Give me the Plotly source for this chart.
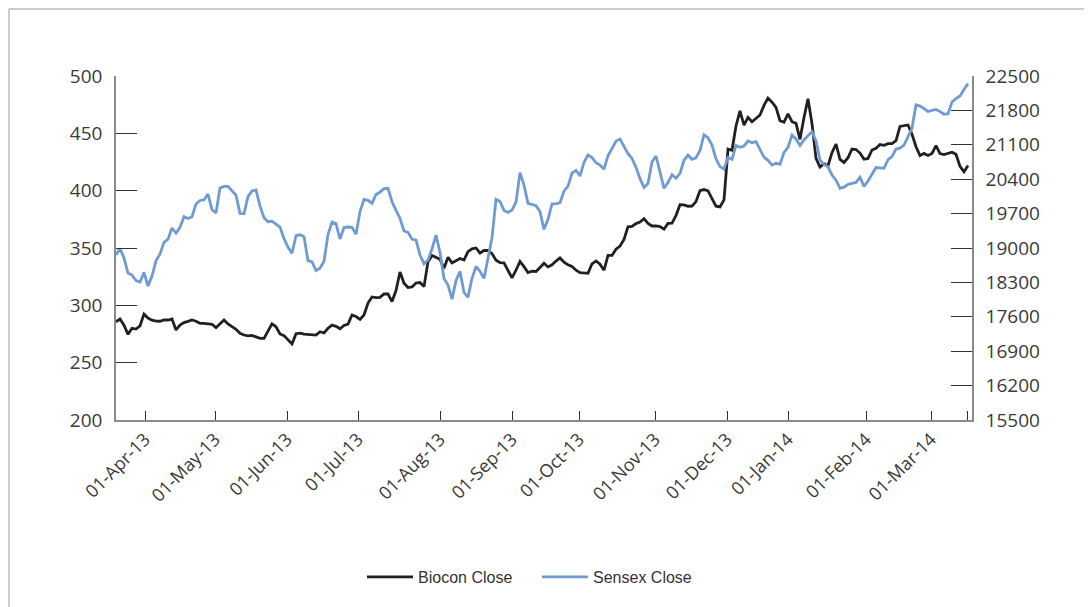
import plotly.graph_objects as go

# Trading-day sample index (x)
biocon_close = [
    285.7, 288.1, 282.7, 274.7, 280.0, 279.3, 282.0, 292.3, 288.9, 287.0,
    286.3, 286.1, 287.2, 287.2, 288.1, 278.5, 282.8, 284.9, 286.0, 287.2,
    286.1, 284.3, 284.2, 283.9, 283.5, 280.5, 283.9, 287.2, 283.7, 281.6,
    279.1, 275.6, 274.1, 273.4, 273.8, 272.5, 271.2, 271.2, 278.1, 283.9,
    281.3, 275.0, 273.6, 270.2, 266.3, 275.3, 275.8, 274.9, 274.6, 274.0,
    274.0, 277.0, 275.9, 280.0, 282.8, 281.7, 279.6, 282.4, 283.7, 291.6,
    290.2, 287.7, 291.6, 302.0, 307.3, 306.8, 307.0, 309.9, 309.9, 303.3,
    312.9, 329.1, 319.2, 315.5, 316.0, 319.5, 319.9, 316.3, 338.1, 343.5,
    341.8, 340.1, 332.3, 341.9, 337.0, 339.1, 340.8, 339.5, 346.8, 349.2,
    350.0, 345.6, 347.8, 347.8, 345.1, 339.3, 337.3, 337.1, 331.0, 323.9,
    330.6, 338.2, 333.7, 328.5, 329.7, 329.5, 333.0, 336.7, 333.5, 335.3,
    338.6, 341.3, 337.6, 335.3, 333.9, 330.6, 328.5, 328.1, 327.9, 336.2,
    338.7, 335.8, 330.6, 343.5, 343.5, 349.0, 351.7, 357.5, 368.5, 368.9,
    371.3, 372.7, 375.6, 371.5, 369.2, 369.2, 368.6, 366.4, 371.5, 371.7,
    378.3, 387.7, 387.6, 386.4, 386.5, 390.5, 400.1, 401.0, 399.8, 393.1,
    386.5, 385.8, 392.0, 436.3, 435.2, 456.4, 469.5, 457.2, 463.9, 460.1,
    462.8, 466.0, 474.4, 480.7, 477.2, 472.6, 461.1, 459.7, 466.9, 460.1,
    458.7, 444.8, 463.8, 480.2, 458.4, 428.2, 420.6, 423.5, 421.8, 433.1,
    440.7, 427.3, 424.6, 428.7, 436.3, 435.9, 432.8, 427.4, 428.1, 435.5,
    437.0, 440.2, 439.5, 441.0, 441.0, 443.7, 456.0, 456.4, 457.3, 449.2,
    438.3, 430.7, 432.5, 430.7, 432.4, 439.2, 432.3, 431.5, 432.8, 433.5,
    431.7, 421.2, 416.5, 421.9,
]

sensex_close = [
    18858, 18988, 18796, 18491, 18448, 18335, 18308, 18503, 18227, 18430,
    18739, 18878, 19116, 19179, 19407, 19301, 19421, 19637, 19600, 19637,
    19895, 19967, 19979, 20099, 19779, 19712, 20223, 20255, 20255, 20156,
    20074, 19706, 19700, 20044, 20162, 20180, 19851, 19615, 19535, 19545,
    19476, 19425, 19191, 19014, 18892, 19250, 19269, 19230, 18742, 18719,
    18540, 18587, 18731, 19273, 19527, 19496, 19183, 19417, 19427, 19419,
    19281, 19741, 19991, 19971, 19908, 20089, 20137, 20207, 20215, 19942,
    19765, 19606, 19346, 19317, 19177, 19163, 18858, 18678, 18756, 18980,
    19262, 18910, 18379, 18247, 17960, 18335, 18526, 18096, 17997, 18383,
    18624, 18524, 18381, 18837, 19208, 19991, 19948, 19765, 19724, 19773,
    19936, 20534, 20282, 19910, 19883, 19861, 19741, 19380, 19584, 19899,
    19899, 19924, 20158, 20260, 20526, 20581, 20465, 20746, 20892, 20840,
    20736, 20689, 20603, 20878, 21023, 21175, 21216, 21076, 20921, 20823,
    20642, 20410, 20235, 20310, 20748, 20872, 20551, 20215, 20331, 20492,
    20418, 20520, 20785, 20888, 20805, 20833, 20984, 21303, 21244, 21096,
    20815, 20656, 20606, 20844, 20805, 21086, 21049, 21076, 21177, 21143,
    21163, 20988, 20848, 20783, 20687, 20724, 20703, 20943, 21049, 21299,
    21218, 21088, 21204, 21285, 21367, 21177, 20789, 20699, 20652, 20485,
    20380, 20215, 20239, 20294, 20317, 20335, 20441, 20253, 20363, 20510,
    20638, 20632, 20622, 20797, 20858, 21014, 21031, 21094, 21251, 21436,
    21912, 21887, 21837, 21778, 21800, 21820, 21776, 21721, 21733, 21971,
    22042, 22093, 22225, 22347,
]

# month tick positions on the trading-day index and their labels
tick_positions = [7.25, 24.75, 42.75, 60.5, 81, 99, 115.75, 134.75, 152.75, 168, 187.5, 203.75, 212.75]
tick_labels = ["01-Apr-13", "01-May-13", "01-Jun-13", "01-Jul-13", "01-Aug-13", "01-Sep-13",
               "01-Oct-13", "01-Nov-13", "01-Dec-13", "01-Jan-14", "01-Feb-14", "01-Mar-14", ""]

left_ticks = [200, 250, 300, 350, 400, 450, 500]
right_ticks = [15500, 16200, 16900, 17600, 18300, 19000, 19700, 20400, 21100, 21800, 22500]
right_tick_text = [str(v) for v in right_ticks]

x_b = list(range(len(biocon_close)))
x_s = list(range(len(sensex_close)))

FONT = "Open Sans, Noto Sans, sans-serif"
TXT = "#3a3a3a"

fig = go.Figure()
fig.add_trace(go.Scatter(x=x_b, y=biocon_close, mode="lines", name="Biocon Close",
                         line=dict(color="#231f20", width=2.8), yaxis="y"))
fig.add_trace(go.Scatter(x=x_s, y=sensex_close, mode="lines", name="Sensex Close",
                         line=dict(color="#6f9bd3", width=2.8), yaxis="y2"))

fig.update_layout(
    width=1092, height=607,
    margin=dict(l=108, r=128, t=68, b=195, autoexpand=False),
    paper_bgcolor="white", plot_bgcolor="white",
    font=dict(family=FONT, size=19, color=TXT),
    showlegend=True,
    legend=dict(orientation="h", x=0.2874, xanchor="left", y=-0.4564, yanchor="middle",
                font=dict(family="Liberation Sans Narrow, Arial Narrow, Liberation Sans, sans-serif",
                          size=16, color="#333333"),
                bgcolor="rgba(0,0,0,0)", itemwidth=46, entrywidth=114, tracegroupgap=0),
    xaxis=dict(range=[0, 214], tickmode="array", tickvals=tick_positions, ticktext=tick_labels,
               tickangle=-45, ticks="inside", ticklen=9, tickcolor="#333333", tickwidth=1,
               showline=True, linecolor="#8a8a8a", linewidth=1.5, showgrid=False, zeroline=False,
               tickfont=dict(family=FONT, size=18, color=TXT)),
    yaxis=dict(range=[200, 500], tickmode="array", tickvals=left_ticks,
               ticks="inside", ticklen=21, tickcolor="#333333", tickwidth=1,
               showline=True, linecolor="#8a8a8a", linewidth=1.5, showgrid=False, zeroline=False,
               ticklabelstandoff=8, tickfont=dict(family=FONT, size=19, color=TXT)),
    yaxis2=dict(range=[15500, 22500], tickmode="array", tickvals=right_ticks, ticktext=right_tick_text,
                overlaying="y", side="right", anchor="x",
                ticks="inside", ticklen=21, tickcolor="#333333", tickwidth=1,
                showline=True, linecolor="#8a8a8a", linewidth=1.5, showgrid=False, zeroline=False,
                ticklabelstandoff=8, tickfont=dict(family=FONT, size=19, color=TXT)),
    shapes=[
        dict(type="line", xref="paper", yref="paper", x0=-0.125, x1=1.1332, y0=1.1948, y1=1.1948,
             line=dict(color="#9a9a9a", width=1)),
        dict(type="line", xref="paper", yref="paper", x0=-0.125, x1=-0.125, y0=1.1948, y1=-0.567,
             line=dict(color="#9a9a9a", width=1)),
        dict(type="line", xref="paper", yref="paper", x0=1.1332, x1=1.1332, y0=1.1948, y1=-0.349,
             line=dict(color="#9a9a9a", width=1)),
    ],
)

fig.write_html("out.html")
